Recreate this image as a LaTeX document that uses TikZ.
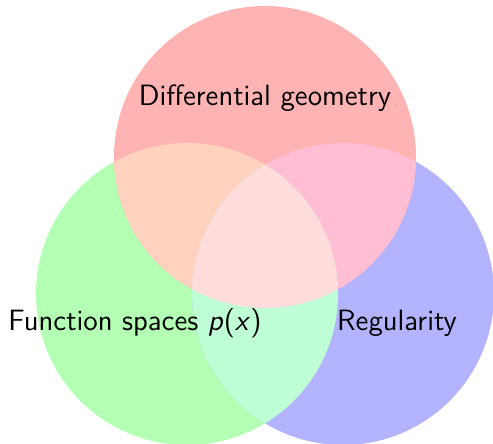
\documentclass[tikz,border=0pt]{standalone}
\usepackage{tikz}
\usepackage{xcolor}
\usetikzlibrary{positioning}

\definecolor{setred}{RGB}{255,179,179}
\definecolor{setgreen}{RGB}{179,255,179}
\definecolor{setblue}{RGB}{179,179,255}
\definecolor{redgreen}{RGB}{254,210,190}
\definecolor{redblue}{RGB}{255,190,212}
\definecolor{greenblue}{RGB}{190,255,213}
\definecolor{allthree}{RGB}{254,220,220}

\tikzset{
  setlabel/.style={font=\sffamily\fontsize{14.7}{17}\selectfont, text=black, inner sep=0pt}
}

\begin{document}
\begin{tikzpicture}[x=0.5pt, y=-0.5pt]
    \useasboundingbox (0,0) rectangle (493,444);
    \clip (0,0) rectangle (493,444);

    % Centres of the three sets
    \coordinate (geo) at (265,157);
    \coordinate (fun) at (187,294);
    \coordinate (reg) at (343,294);

    % Single sets
    \fill[setgreen] (fun) circle (151);
    \fill[setblue] (reg) circle (151);
    \fill[setred] (geo) circle (151);

    % Pairwise overlaps
    \begin{scope}
        \clip (fun) circle (151);
        \fill[redgreen] (geo) circle (151);
    \end{scope}
    \begin{scope}
        \clip (reg) circle (151);
        \fill[redblue] (geo) circle (151);
    \end{scope}
    \begin{scope}
        \clip (fun) circle (151);
        \fill[greenblue] (reg) circle (151);
    \end{scope}

    % Common part
    \begin{scope}
        \clip (fun) circle (151);
        \clip (reg) circle (151);
        \fill[allthree] (geo) circle (151);
    \end{scope}

    % Labels
    \node[setlabel] (geolabel) at (265,98) {Differential geometry};
    \node[setlabel] (funlabel) at (135,323) {Function spaces \textsl{p}(\textsl{x})};
    \node[setlabel] (reglabel) at (397,323) {Regularity};
\end{tikzpicture}
\end{document}
